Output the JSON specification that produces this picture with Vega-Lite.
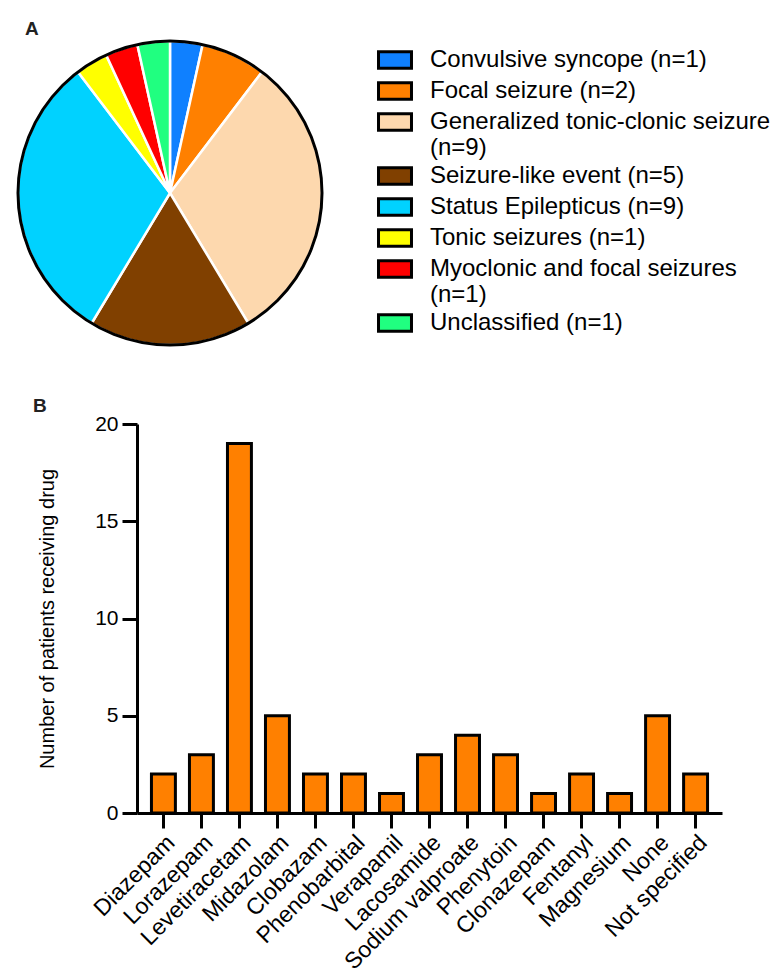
{
  "$schema": "https://vega.github.io/schema/vega-lite/v6.json",
  "padding": {"left": 12, "top": 20, "right": 5, "bottom": 5},
  "bounds": "flush",
  "spacing": 79,
  "config": {
    "view": {"stroke": null},
    "font": "Liberation Sans",
    "axis": {"domainColor": "black", "domainWidth": 3, "tickColor": "black", "tickWidth": 3, "tickSize": 15, "labelColor": "black", "titleColor": "black", "grid": false, "labelFont": "Liberation Sans", "titleFont": "Liberation Sans"}
  },
  "vconcat": [
    {
      "width": 66,
      "height": 304,
      "title": {"text": "A", "anchor": "start", "frame": "group", "fontSize": 19, "fontWeight": "bold", "color": "#222222", "dx": -112, "offset": -4},
      "data": {"values": [
        {"type": "Convulsive syncope (n=1)", "n": 1, "idx": 1},
        {"type": "Focal seizure (n=2)", "n": 2, "idx": 2},
        {"type": "Generalized tonic-clonic seizure|(n=9)", "n": 9, "idx": 3},
        {"type": "Seizure-like event (n=5)", "n": 5, "idx": 4},
        {"type": "Status Epilepticus (n=9)", "n": 9, "idx": 5},
        {"type": "Tonic seizures (n=1)", "n": 1, "idx": 6},
        {"type": "Myoclonic and focal seizures|(n=1)", "n": 1, "idx": 7},
        {"type": "Unclassified (n=1)", "n": 1, "idx": 8}
      ]},
      "layer": [
        {
          "mark": {"type": "arc", "radius": 152, "stroke": "white", "strokeWidth": 2.5},
          "encoding": {
            "theta": {"field": "n", "type": "quantitative", "stack": true},
            "order": {"field": "idx", "type": "quantitative"},
            "color": {
              "field": "type", "type": "nominal",
              "scale": {
                "domain": ["Convulsive syncope (n=1)", "Focal seizure (n=2)", "Generalized tonic-clonic seizure|(n=9)", "Seizure-like event (n=5)", "Status Epilepticus (n=9)", "Tonic seizures (n=1)", "Myoclonic and focal seizures|(n=1)", "Unclassified (n=1)"],
                "range": ["#0F80FF", "#FF8000", "#FDD8AE", "#804000", "#00D2FF", "#FFFF00", "#FF0000", "#20FF80"]
              },
              "legend": {
                "orient": "none", "legendX": 246, "legendY": 7, "title": null,
                "symbolType": "M-2,-1H2V1H-2Z", "symbolSize": 272,
                "symbolStrokeColor": "black", "symbolStrokeWidth": 3, "symbolOpacity": 1,
                "labelFontSize": 24, "labelFont": "Liberation Sans", "labelColor": "black",
                "rowPadding": 1, "labelOffset": 23, "labelLimit": 0,
                "labelExpr": "split(datum.label, '|')"
              }
            }
          }
        },
        {
          "data": {"values": [{"v": 1}]},
          "mark": {"type": "arc", "radius": 152, "filled": false, "stroke": "black", "strokeWidth": 3},
          "encoding": {"theta": {"field": "v", "type": "quantitative"}}
        }
      ],
      "resolve": {"scale": {"theta": "independent"}}
    },
    {
      "width": 585,
      "height": 389,
      "title": {"text": "B", "anchor": "start", "frame": "group", "fontSize": 19, "fontWeight": "bold", "color": "#222222", "dx": -104, "offset": -3},
      "data": {"values": [
        {"drug": "Diazepam", "count": 2},
        {"drug": "Lorazepam", "count": 3},
        {"drug": "Levetiracetam", "count": 19},
        {"drug": "Midazolam", "count": 5},
        {"drug": "Clobazam", "count": 2},
        {"drug": "Phenobarbital", "count": 2},
        {"drug": "Verapamil", "count": 1},
        {"drug": "Lacosamide", "count": 3},
        {"drug": "Sodium valproate", "count": 4},
        {"drug": "Phenytoin", "count": 3},
        {"drug": "Clonazepam", "count": 1},
        {"drug": "Fentanyl", "count": 2},
        {"drug": "Magnesium", "count": 1},
        {"drug": "None", "count": 5},
        {"drug": "Not specified", "count": 2}
      ]},
      "mark": {"type": "bar", "fill": "#FF8000", "stroke": "black", "strokeWidth": 3},
      "encoding": {
        "x": {
          "field": "drug", "type": "nominal", "sort": null,
          "scale": {"paddingInner": 0.37, "paddingOuter": 0.38},
          "axis": {"title": null, "labelAngle": -45, "labelFontSize": 23, "labelPadding": 3}
        },
        "y": {
          "field": "count", "type": "quantitative",
          "scale": {"domain": [0, 20], "nice": false},
          "axis": {"values": [0, 5, 10, 15, 20], "title": "Number of patients receiving drug", "titleFontSize": 20, "titleFontWeight": "normal", "labelFontSize": 21, "labelPadding": 4, "titlePadding": 37}
        }
      }
    }
  ]
}
